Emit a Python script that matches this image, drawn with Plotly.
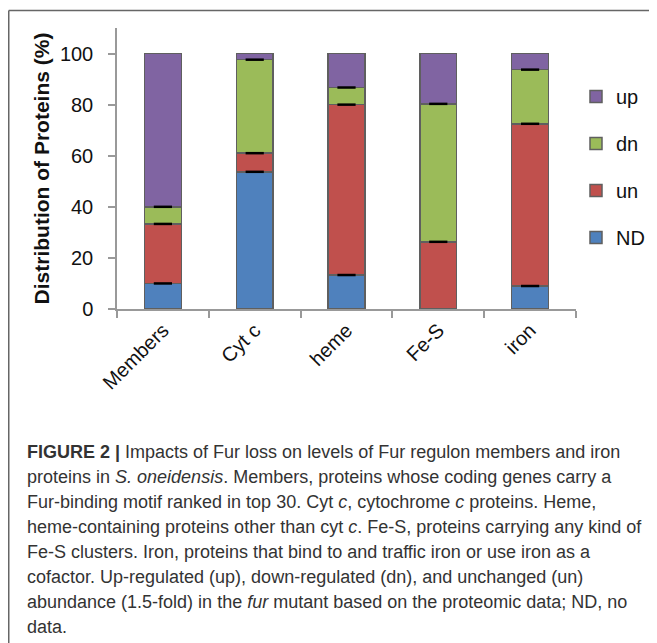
import numpy as np
import plotly.graph_objects as go

categories = ["Members", "Cyt c", "heme", "Fe-S", "iron"]
nd_vals = [10.0, 53.7, 13.3, 0.0, 9.0]
un_vals = [23.3, 7.3, 66.7, 26.3, 63.5]
dn_vals = [6.7, 36.6, 6.7, 54.0, 21.2]
up_vals = [60.0, 2.4, 13.3, 19.7, 6.3]
series_names = ["ND", "un", "dn", "up"]
series_colors = ["#4F81BD", "#C0504D", "#9BBB59", "#8064A2"]
y_ticks = [0, 20, 40, 60, 80, 100]

caption_lines = [
    "<b>FIGURE 2 |</b> Impacts of Fur loss on levels of Fur regulon members and iron",
    "proteins in <i>S. oneidensis</i>. Members, proteins whose coding genes carry a",
    "Fur-binding motif ranked in top 30. Cyt <i>c</i>, cytochrome <i>c</i> proteins. Heme,",
    "heme-containing proteins other than cyt <i>c</i>. Fe-S, proteins carrying any kind of",
    "Fe-S clusters. Iron, proteins that bind to and traffic iron or use iron as a",
    "cofactor. Up-regulated (up), down-regulated (dn), and unchanged (un)",
    "abundance (1.5-fold) in the <i>fur</i> mutant based on the proteomic data; ND, no",
    "data.",
]

# page offset of the figure (browser body margin)
OFF = 8
W, H = 657 - OFF, 643 - OFF
# plot area in page coordinates: x 117..576, y 28..309
L, R, T, B = 117 - OFF, 657 - 576, 28 - OFF, 643 - 309
PW, PH = W - L - R, H - T - B


def px(x_page):
    return (x_page - OFF - L) / PW


def py(y_page):
    return (H - B - (y_page - OFF)) / PH


FONT = "Liberation Sans, Arial, sans-serif"
ranks = {"up": 1, "dn": 2, "un": 3, "ND": 4}

fig = go.Figure()
all_vals = [nd_vals, un_vals, dn_vals, up_vals]
for name, vals, col in zip(series_names, all_vals, series_colors):
    fig.add_trace(go.Bar(
        x=categories, y=vals, name=name, legendgroup=name, legendrank=ranks[name],
        marker=dict(color=col, line=dict(color="#5f5f5f", width=1.5)),
        width=0.4,
    ))

# small black boundary marks at the top of each stacked segment (except the top one)
seg = np.array(all_vals[:-1])
cum = np.cumsum(seg, axis=0)
for k in range(cum.shape[0]):
    ys = [float(c) if v > 0 else None for c, v in zip(cum[k], seg[k])]
    fig.add_trace(go.Scatter(
        x=categories, y=ys, mode="markers", showlegend=False, hoverinfo="skip",
        marker=dict(symbol="line-ew", size=13, line=dict(color="black", width=2.5)),
    ))

fig.update_layout(
    barmode="stack",
    width=W, height=H,
    margin=dict(l=L, r=R, t=T, b=B, autoexpand=False),
    paper_bgcolor="white", plot_bgcolor="white",
    font=dict(family=FONT, size=20, color="#111"),
    showlegend=True,
    legend=dict(x=px(576), y=py(77), xanchor="left", yanchor="top",
                traceorder="grouped", tracegroupgap=18,
                font=dict(size=20, color="#111"), bgcolor="rgba(0,0,0,0)"),
    xaxis=dict(showline=True, linecolor="#999", linewidth=1.5,
               ticks="outside", tickson="boundaries", ticklen=7, tickcolor="#999",
               tickwidth=1.5, tickangle=-45, showgrid=False,
               tickfont=dict(size=20, color="#111")),
    yaxis=dict(range=[0, 110], tickvals=y_ticks, showline=True, linecolor="#999",
               linewidth=1.5, ticks="outside", ticklen=7, tickcolor="#999", tickwidth=1.5,
               showgrid=False, zeroline=False, ticklabelstandoff=11,
               tickfont=dict(size=20, color="#111"),
               title=dict(text="<b>Distribution of Proteins (%)</b>",
                          font=dict(size=21, color="#111"), standoff=5)),
)

# frame lines (top and left)
fig.add_shape(type="line", xref="paper", yref="paper", x0=px(8.75), x1=px(657),
              y0=py(10.5), y1=py(10.5), line=dict(color="#666", width=1.5))
fig.add_shape(type="line", xref="paper", yref="paper", x0=px(8.75), x1=px(8.75),
              y0=py(10.5), y1=py(643), line=dict(color="#666", width=1.5))

for i, line in enumerate(caption_lines):
    fig.add_annotation(text=line, xref="paper", yref="paper", x=px(25), y=py(452 + 25 * i),
                       xanchor="left", yanchor="middle", showarrow=False,
                       font=dict(family=FONT, size=18, color="#333"))

fig.write_html("out.html")
